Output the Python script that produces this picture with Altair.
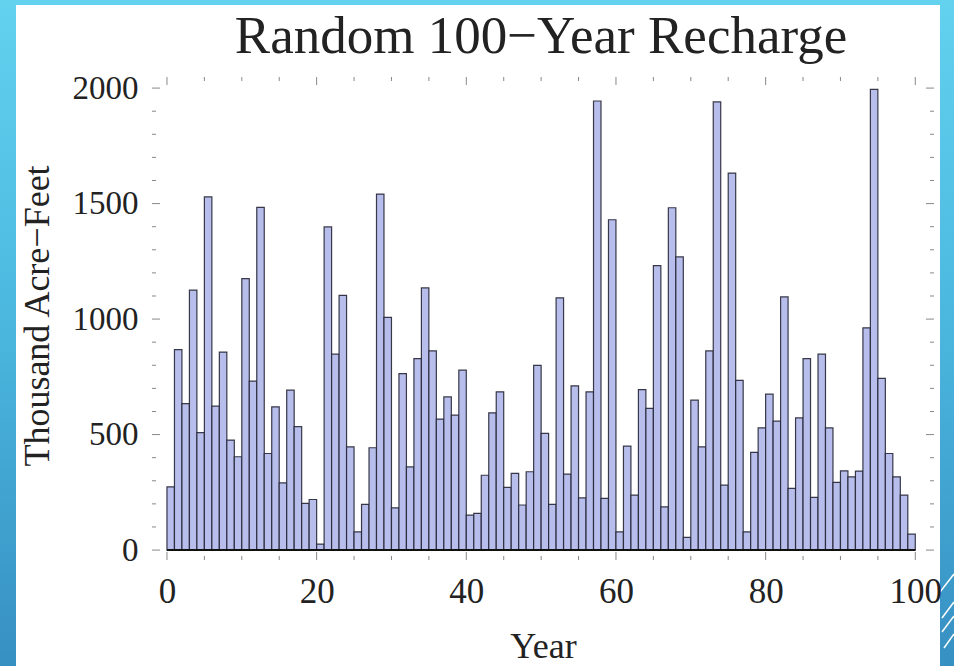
import altair as alt
import pandas as pd

# ---- data ----
years = list(range(1, 101))
recharge = [
    274, 868, 634, 1125, 508, 1529, 623, 857, 476, 404,
    1175, 731, 1484, 418, 620, 291, 692, 534, 202, 219,
    26, 1399, 848, 1103, 447, 79, 198, 443, 1541, 1007,
    183, 764, 360, 829, 1135, 862, 567, 663, 584, 779,
    151, 159, 324, 594, 685, 271, 332, 195, 339, 800,
    505, 198, 1092, 329, 711, 226, 685, 1944, 224, 1430,
    79, 450, 238, 695, 613, 1231, 187, 1482, 1269, 55,
    649, 447, 862, 1940, 281, 1632, 735, 79, 423, 529,
    675, 558, 1096, 267, 572, 829, 228, 848, 529, 293,
    343, 317, 342, 962, 1994, 743, 418, 317, 238, 69,
]
x_major = [0, 20, 40, 60, 80, 100]
x_minor = [5, 10, 15, 25, 30, 35, 45, 50, 55, 65, 70, 75, 85, 90, 95]
y_major = [0, 500, 1000, 1500, 2000]
y_minor = [100, 200, 300, 400, 600, 700, 800, 900, 1100, 1200, 1300, 1400,
           1600, 1700, 1800, 1900]

title_text = "Random 100\u2212Year Recharge"
x_title = "Year"
y_title = "Thousand Acre\u2212Feet"

W, H = 782, 483
FONT = "Liberation Serif"
TXT = "#222222"
MAJ, MIN = 8, 4

df = pd.DataFrame({"year": years, "recharge": recharge})

xs = alt.Scale(domain=[-2, 102.5], nice=False, zero=False)
ys = alt.Scale(domain=[-43, 2048], nice=False, zero=False)

one = alt.Data(values=[{"k": 0}])

# decorative slide background (blue gradient frame with white panel)
bg = alt.Chart(one).mark_rect(
    fill=alt.Gradient(
        gradient="linear",
        stops=[alt.GradientStop(color="#62D2EF", offset=0),
               alt.GradientStop(color="#4AB6DE", offset=0.5),
               alt.GradientStop(color="#3790C2", offset=1)],
        x1=0, x2=0, y1=0, y2=1),
    clip=False,
).encode(x=alt.value(-152), x2=alt.value(W + 20), y=alt.value(-77), y2=alt.value(H + 106))

panel = alt.Chart(one).mark_rect(fill="white", clip=False).encode(
    x=alt.value(-136), x2=alt.value(W + 6), y=alt.value(-72), y2=alt.value(H + 106)
)

deco_lines = [
    (W + 6, H + 32, W + 20, H + 14),
    (W + 8, H + 58, W + 20, H + 42),
    (W + 8, H + 72, W + 20, H + 56),
    (W + 10, H + 88, W + 20, H + 74),
]
deco = [
    alt.Chart(one).mark_rule(color="white", strokeWidth=1.5, clip=False).encode(
        x=alt.value(a), y=alt.value(c), x2=alt.value(b), y2=alt.value(d))
    for (a, c, b, d) in deco_lines
]

title_mark = alt.Chart(one).mark_text(
    text=title_text, font=FONT, fontSize=53, color=TXT,
    align="center", baseline="alphabetic", clip=False,
).encode(x=alt.value(W / 2 - 2), y=alt.value(-24))

bars = alt.Chart(df).transform_calculate(start="datum.year - 1").mark_bar(
    fill="#B7BEEB", stroke="#262636", strokeWidth=1.2, strokeOpacity=0.9
).encode(
    x=alt.X(
        "start:Q", scale=xs,
        axis=alt.Axis(
            values=x_major, ticks=False, domain=False, grid=False, zindex=2,
            format="d",
            labelFont=FONT, labelFontSize=35, labelColor=TXT, labelPadding=14,
            labelFlush=False, labelBaseline="top",
            title=x_title, titleFont=FONT, titleFontSize=36, titleFontWeight="normal",
            titleColor=TXT, titleY=97, titleBaseline="alphabetic",
        ),
    ),
    x2="year:Q",
    y=alt.Y(
        "recharge:Q", scale=ys,
        axis=alt.Axis(
            values=y_major, ticks=False, domain=False, grid=False, zindex=2,
            format="d",
            labelFont=FONT, labelFontSize=33, labelColor=TXT, labelPadding=14,
            labelFlush=False,
            title=y_title, titleFont=FONT, titleFontSize=36, titleFontWeight="normal",
            titleColor=TXT, titleX=-115, titleY=H / 2 - 3, titleAngle=-90,
            titleAlign="center", titleBaseline="middle",
        ),
    ),
    y2=alt.datum(0),
)

base_df = pd.DataFrame({"x0": [0], "x1": [100], "y0": [0]})
baseline = alt.Chart(base_df).mark_rule(color="#111111", strokeWidth=2).encode(
    x=alt.X("x0:Q", scale=xs), x2="x1:Q", y=alt.Y("y0:Q", scale=ys)
)

tick_color = "#555555"


def xticks(vals, length):
    d = pd.DataFrame({"v": vals})
    out = []
    for ypos in (H - length / 2, length / 2):
        out.append(alt.Chart(d).mark_tick(color=tick_color, thickness=1, size=length).encode(
            x=alt.X("v:Q", scale=xs), y=alt.value(ypos)))
    return out


def yticks(vals, length):
    d = pd.DataFrame({"v": vals})
    out = []
    for xpos in (length / 2, W - length / 2):
        out.append(alt.Chart(d).mark_tick(color=tick_color, thickness=1, size=length).encode(
            y=alt.Y("v:Q", scale=ys), x=alt.value(xpos)))
    return out


ticks = xticks(x_major, MAJ) + xticks(x_minor, MIN) + yticks(y_major, MAJ) + yticks(y_minor, MIN)

chart = alt.layer(
    bg, panel, *deco, title_mark, bars, baseline, *ticks
).properties(
    width=W, height=H,
    autosize=alt.AutoSizeParams(type="none"),
    padding={"left": 152, "top": 77, "right": 20, "bottom": 106},
).configure_view(stroke="#666666", strokeWidth=1.2).configure(background="white")

chart.save("out.html", embed_options={"renderer": "svg", "actions": False})
